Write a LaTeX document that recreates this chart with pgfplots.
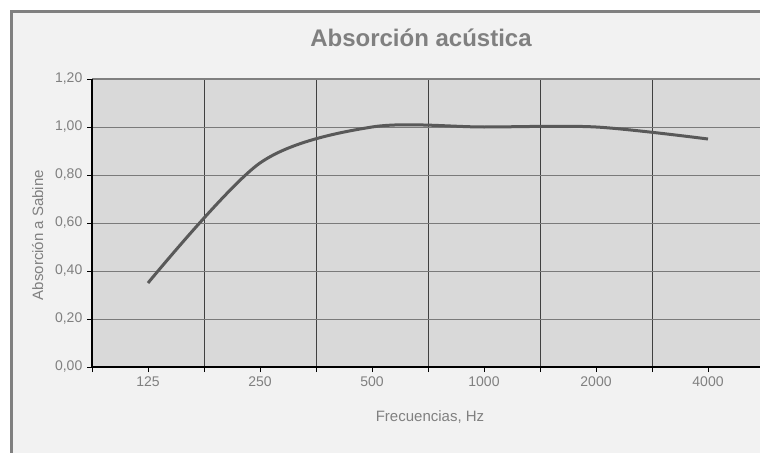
\documentclass[border=0pt]{standalone}
\usepackage{pgfplots}
\pgfplotsset{compat=1.18}
\usepackage{fontspec}
\setmainfont{Liberation Sans}
\definecolor{bgc}{HTML}{F2F2F2}
\definecolor{plotc}{HTML}{D9D9D9}
\definecolor{bordc}{HTML}{808080}
\definecolor{txtc}{HTML}{808080}
\definecolor{linec}{HTML}{595959}
\definecolor{hgrid}{HTML}{7A7A7A}
\definecolor{vgrid}{HTML}{404040}
\begin{document}
\begin{tikzpicture}
\useasboundingbox (0,0) rectangle (570pt,-339.75pt);
\clip (0,0) rectangle (570pt,-339.75pt);
\fill[white] (0,0) rectangle (570pt,-339.75pt);
\fill[bgc] (8.625pt,-8.625pt) rectangle (570pt,-339.75pt);
\draw[bordc, line width=2.25pt] (8.625pt,-339.75pt) -- (8.625pt,-8.625pt) -- (570pt,-8.625pt);
\node[anchor=base, inner sep=0pt, font=\fontsize{18}{20}\selectfont\bfseries, text=txtc] at (315.75pt,-35.25pt) {Absorción acústica};
\node[anchor=base, inner sep=0pt, font=\fontsize{11.25}{13}\selectfont, text=txtc] at (322.5pt,-315.75pt) {Frecuencias, Hz};
\node[anchor=base, inner sep=0pt, rotate=90, font=\fontsize{11.25}{13}\selectfont, text=txtc] at (32.25pt,-176.25pt) {Absorción a Sabine};
\begin{axis}[
  scale only axis, width=501pt, height=216pt,
  at={(69pt,-59.25pt)}, anchor=north west,
  xmin=-0.5, xmax=5.4643, ymin=0, ymax=1.2,
  xtick={0,1,2,3,4,5},
  xticklabels={125,250,500,1000,2000,4000},
  minor xtick={-0.5,0.5,1.5,2.5,3.5,4.5},
  ytick={0,0.2,0.4,0.6,0.8,1.0,1.2},
  axis background/.style={fill=plotc},
  axis line style={draw=none},
  xmajorgrids=false, xminorgrids=true, ymajorgrids=true,
  minor x grid style={vgrid, line width=0.75pt},
  major y grid style={hgrid, line width=0.75pt},
  tick align=outside,
  major tick length=3.75pt, minor tick length=3.75pt,
  tick style={black, line width=0.75pt},
  xtick pos=bottom, ytick pos=left,
  /pgf/number format/assume math mode=true,
  yticklabel style={/pgf/number format/.cd, fixed, fixed zerofill, precision=2, use comma},
  ticklabel style={font=\fontsize{10.5}{12}\selectfont, text=txtc},
  clip=false,
]
\addplot[linec, line width=2.25pt, smooth, tension=0.5] coordinates {
  (0,0.35) (1,0.85) (2,1.00) (3,1.00) (4,1.00) (5,0.95)
};
\draw[bordc, line width=2pt] (rel axis cs:0,1) -- (rel axis cs:1,1);
\draw[black, line width=1.5pt] (rel axis cs:0,1) -- (rel axis cs:0,0) -- (rel axis cs:1,0);
\end{axis}
\end{tikzpicture}
\end{document}
